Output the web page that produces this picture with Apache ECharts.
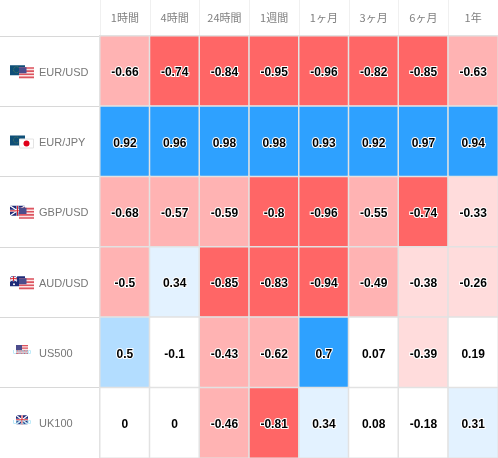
<!DOCTYPE html>
<html><head><meta charset="utf-8">
<style>html,body{margin:0;padding:0;background:#fff}#c{width:498px;height:458px}</style>
<script src="https://cdn.jsdelivr.net/npm/echarts@6/dist/echarts.min.js"></script>
</head><body><div id="c"></div>
<script>
const periods = ['1時間','4時間','24時間','1週間','1ヶ月','3ヶ月','6ヶ月','1年'];
const instruments = ['EUR/USD','EUR/JPY','GBP/USD','AUD/USD','US500','UK100'];
const subLabels = ['','','','','US500','UK100'];
const eurUsd = [-0.66,-0.74,-0.84,-0.95,-0.96,-0.82,-0.85,-0.63];
const eurJpy = [0.92,0.96,0.98,0.98,0.93,0.92,0.97,0.94];
const gbpUsd = [-0.68,-0.57,-0.59,-0.8,-0.96,-0.55,-0.74,-0.33];
const audUsd = [-0.5,0.34,-0.85,-0.83,-0.94,-0.49,-0.38,-0.26];
const us500 = [0.5,-0.1,-0.43,-0.62,0.7,0.07,-0.39,0.19];
const uk100 = [0,0,-0.46,-0.81,0.34,0.08,-0.18,0.31];
const rows = [eurUsd,eurJpy,gbpUsd,audUsd,us500,uk100];

const data = [];
rows.forEach((r,y)=>r.forEach((v,x)=>data.push([x,y,v])));

function us(x,y,w,h){let s=`<g transform="translate(${x} ${y})"><rect width="${w}" height="${h}" fill="#fbe4e4"/>`;
  for(let i=0;i<4;i++)s+=`<rect y="${i*h/3.5}" width="${w}" height="${h/7}" fill="#dd5560"/>`;
  s+=`<rect width="${w*0.5}" height="${h*0.55}" fill="#4c4c8c"/></g>`;return s;}
function eu(x,y){return `<g transform="translate(${x} ${y})"><rect width="15" height="10" fill="#0f4f78"/><circle cx="6.5" cy="4.5" r="3" fill="none" stroke="#7f9a40" stroke-width=".6" stroke-dasharray=".8 .8"/></g>`;}
function uk(x,y,w,h){return `<g transform="translate(${x} ${y})"><rect width="${w}" height="${h}" fill="#1f2a78"/><path d="M0 0L${w} ${h}M${w} 0L0 ${h}" stroke="#fff" stroke-width="1.2"/><path d="M${w/2} 0V${h}M0 ${h/2}H${w}" stroke="#fff" stroke-width="2"/><path d="M${w/2} 0V${h}M0 ${h/2}H${w}" stroke="#d8202c" stroke-width="1"/></g>`;}
function au(x,y){return `<g transform="translate(${x} ${y})"><rect width="15" height="10" fill="#1d2a78"/>${uk(0,0,7,5)}<circle cx="11" cy="3" r=".8" fill="#fff"/><circle cx="11" cy="7" r=".8" fill="#fff"/><circle cx="4" cy="8" r="1" fill="#fff"/></g>`;}
function jp(x,y){return `<g transform="translate(${x} ${y})"><rect x=".5" y=".5" width="14" height="9" fill="#fff" stroke="#e4e4e4"/><circle cx="7.5" cy="5" r="3" fill="#e0001a"/></g>`;}
const wrap=s=>'data:image/svg+xml;charset=utf-8,'+encodeURIComponent(`<svg xmlns="http://www.w3.org/2000/svg" width="29" height="18">${s}</svg>`);
const flags = {
  f0: wrap(eu(0,3)+us(9,5,15,11)),
  f1: wrap(eu(0,3)+jp(9,6)),
  f2: wrap(uk(0,3,15,10)+us(9,5,15,11)),
  f3: wrap(au(0,3)+us(9,5,15,11)),
  f4: wrap(us(6,1.5,12,9)),
  f5: wrap(uk(6,1.5,12,9))
};
const rich = {t:{color:'#777',fontSize:11,fontFamily:'Liberation Sans',padding:[3,0,0,0]}};
Object.keys(flags).forEach(k=>{rich[k]={width:29,height:18,backgroundColor:{image:flags[k]}};});

const chart = echarts.init(document.getElementById('c'),null,{renderer:'canvas'});
chart.setOption({
  animation:false,
  backgroundColor:'#fff',
  grid:{left:100,right:0,top:36,bottom:0},
  xAxis:{type:'category',position:'top',data:periods,
    axisLine:{show:false},
    axisTick:{show:true,length:36,lineStyle:{color:'#f0f0f0',width:1}},
    axisLabel:{color:'#808080',fontSize:11,margin:13,fontFamily:'Noto Sans CJK JP'},
    splitLine:{show:false}},
  yAxis:[{type:'category',inverse:true,data:instruments,
    axisLine:{show:false},
    axisTick:{show:true,length:100,lineStyle:{color:'#d8d8d8',width:1}},
    axisLabel:{align:'left',margin:90,interval:0,
      formatter:(v,i)=>`{f${i}|}{t|${v}}`,rich}},
   {type:'category',inverse:true,position:'left',data:instruments,
    axisLine:{show:false},axisTick:{show:false},
    axisLabel:{show:true,align:'center',margin:78,fontSize:6,color:'#8fdcf5',fontFamily:'Liberation Sans',interval:0,hideOverlap:false,
      padding:[11,0,0,0],formatter:(v,i)=>subLabels[i]}}],
  visualMap:{show:false,type:'piecewise',dimension:2,seriesIndex:0,
    pieces:[
      {lt:-0.7,color:'#ff6666'},
      {gte:-0.7,lt:-0.4,color:'#ffb3b3'},
      {gte:-0.4,lt:-0.2,color:'#ffdcdc'},
      {gte:-0.2,lt:0.2,color:'#ffffff'},
      {gte:0.2,lt:0.4,color:'#e3f2ff'},
      {gte:0.4,lt:0.7,color:'#b3ddff'},
      {gte:0.7,color:'#2ea1ff'}
    ]},
  series:[{type:'heatmap',data,
    itemStyle:{borderColor:'#e2e2e2',borderWidth:1.5},
    emphasis:{disabled:true},
    label:{show:true,formatter:p=>String(p.value[2]),color:'#000',fontSize:12,fontWeight:'bold',
      fontFamily:'Liberation Sans',textBorderColor:'#fff',textBorderWidth:2,offset:[0,2]}},
    {type:'scatter',yAxisIndex:1,symbolSize:0,silent:true,data:instruments.map((n,i)=>[0,i])}]
});
</script></body></html>
